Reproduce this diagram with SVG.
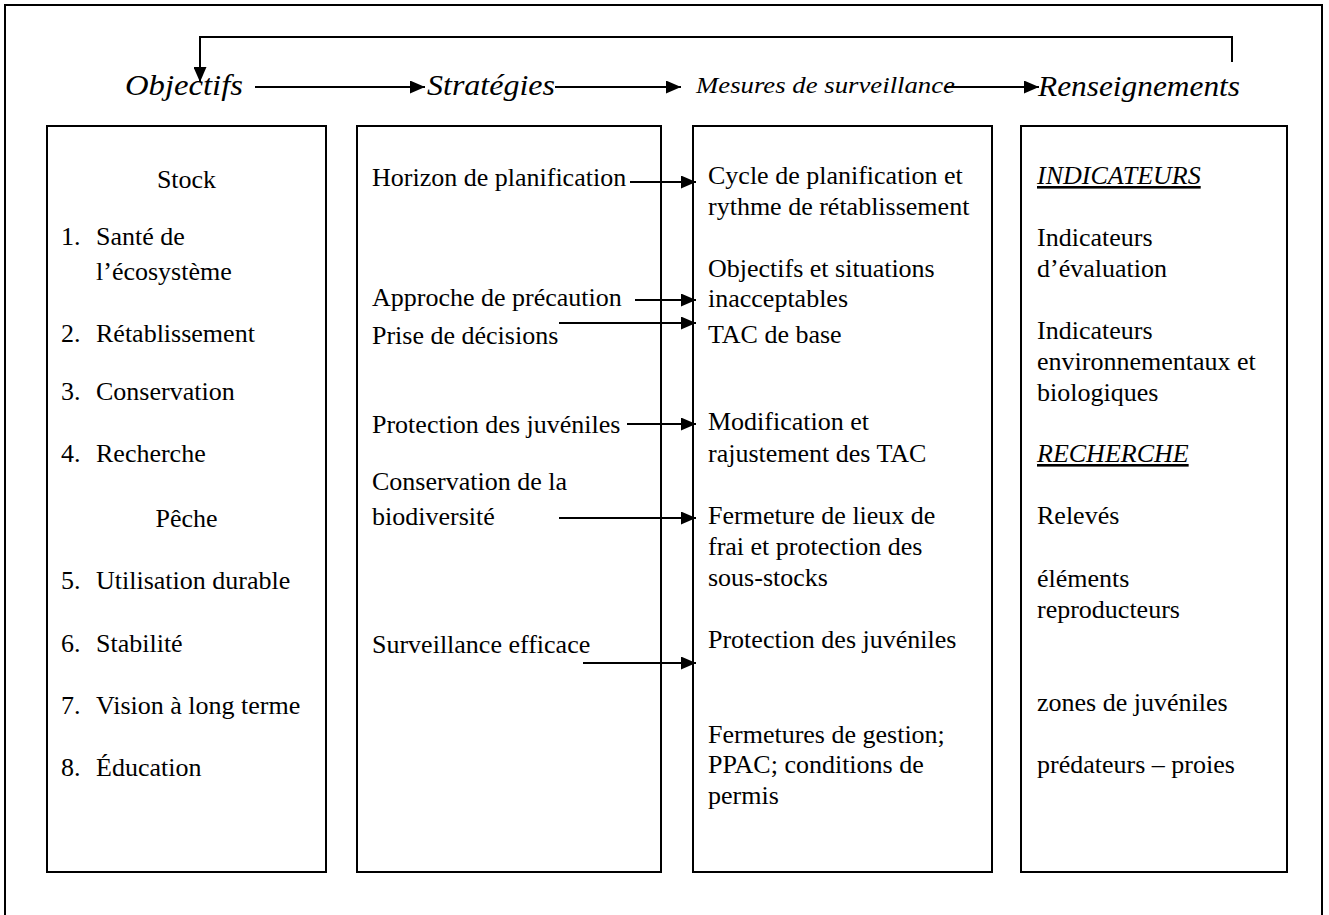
<svg xmlns="http://www.w3.org/2000/svg" width="1329" height="915" viewBox="0 0 1329 915">
<style>
.frame{fill:none;stroke:#000;stroke-width:2}
.box{fill:#fff;stroke:#000;stroke-width:2}
.t{font-family:"Liberation Serif","Times New Roman",serif;font-size:26px;fill:#000}
.h{font-family:"Liberation Serif","Times New Roman",serif;font-size:29px;font-style:italic;fill:#000}
.hs{font-family:"Liberation Serif","Times New Roman",serif;font-size:23px;font-style:italic;fill:#000}
.u{font-style:italic;text-decoration:underline}
.c{text-anchor:middle}
.con{fill:none;stroke:#000;stroke-width:2}
</style>
<defs>
<marker id="ah" markerUnits="userSpaceOnUse" markerWidth="15" markerHeight="13" refX="15" refY="6.5" orient="auto">
<path d="M0,0 L15,6.5 L0,13 z" fill="#000"/>
</marker>
</defs>
<rect class="frame" x="5" y="5" width="1317" height="930"/>

<g id="headers">
<text class="h" x="125" y="95" textLength="118" lengthAdjust="spacingAndGlyphs">Objectifs</text>
<text class="h" x="427" y="95" textLength="128" lengthAdjust="spacingAndGlyphs">Stratégies</text>
<text class="hs" x="696" y="93" textLength="259" lengthAdjust="spacingAndGlyphs">Mesures de surveillance</text>
<text class="h" x="1038" y="96" textLength="202" lengthAdjust="spacingAndGlyphs">Renseignements</text>
</g>

<g id="objectifs">
<rect class="box" x="47" y="126" width="279" height="746"/>
<text class="t c" x="186.5" y="188">Stock</text>
<text class="t" x="61" y="245">1.</text><text class="t" x="96" y="245">Santé de</text>
<text class="t" x="96" y="280">l’écosystème</text>
<text class="t" x="61" y="342">2.</text><text class="t" x="96" y="342">Rétablissement</text>
<text class="t" x="61" y="400">3.</text><text class="t" x="96" y="400">Conservation</text>
<text class="t" x="61" y="462">4.</text><text class="t" x="96" y="462">Recherche</text>
<text class="t c" x="186.5" y="527">Pêche</text>
<text class="t" x="61" y="589">5.</text><text class="t" x="96" y="589">Utilisation durable</text>
<text class="t" x="61" y="652">6.</text><text class="t" x="96" y="652">Stabilité</text>
<text class="t" x="61" y="714">7.</text><text class="t" x="96" y="714">Vision à long terme</text>
<text class="t" x="61" y="776">8.</text><text class="t" x="96" y="776">Éducation</text>
</g>

<g id="strategies">
<rect class="box" x="357" y="126" width="304" height="746"/>
<text class="t" x="372" y="186">Horizon de planification</text>
<text class="t" x="372" y="306">Approche de précaution</text>
<text class="t" x="372" y="344">Prise de décisions</text>
<text class="t" x="372" y="433">Protection des juvéniles</text>
<text class="t" x="372" y="490">Conservation de la</text>
<text class="t" x="372" y="525">biodiversité</text>
<text class="t" x="372" y="653">Surveillance efficace</text>
</g>

<g id="mesures">
<rect class="box" x="693" y="126" width="299" height="746"/>
<text class="t" x="708" y="184">Cycle de planification et</text>
<text class="t" x="708" y="215">rythme de rétablissement</text>
<text class="t" x="708" y="277">Objectifs et situations</text>
<text class="t" x="708" y="307">inacceptables</text>
<text class="t" x="708" y="343">TAC de base</text>
<text class="t" x="708" y="430">Modification et</text>
<text class="t" x="708" y="462">rajustement des TAC</text>
<text class="t" x="708" y="524">Fermeture de lieux de</text>
<text class="t" x="708" y="555">frai et protection des</text>
<text class="t" x="708" y="586">sous-stocks</text>
<text class="t" x="708" y="648">Protection des juvéniles</text>
<text class="t" x="708" y="743">Fermetures de gestion;</text>
<text class="t" x="708" y="773">PPAC; conditions de</text>
<text class="t" x="708" y="804">permis</text>
</g>

<g id="renseignements">
<rect class="box" x="1021" y="126" width="266" height="746"/>
<text class="t u" x="1037" y="184">INDICATEURS</text>
<text class="t" x="1037" y="246">Indicateurs</text>
<text class="t" x="1037" y="277">d’évaluation</text>
<text class="t" x="1037" y="339">Indicateurs</text>
<text class="t" x="1037" y="370">environnementaux et</text>
<text class="t" x="1037" y="401">biologiques</text>
<text class="t u" x="1037" y="462">RECHERCHE</text>
<text class="t" x="1037" y="524">Relevés</text>
<text class="t" x="1037" y="587">éléments</text>
<text class="t" x="1037" y="618">reproducteurs</text>
<text class="t" x="1037" y="711">zones de juvéniles</text>
<text class="t" x="1037" y="773">prédateurs – proies</text>
</g>

<g id="connectors">
<polyline class="con" points="1232,62 1232,37 200,37 200,82" marker-end="url(#ah)"/>
<line class="con" x1="255" y1="87" x2="425" y2="87" marker-end="url(#ah)"/>
<line class="con" x1="555" y1="87" x2="681" y2="87" marker-end="url(#ah)"/>
<line class="con" x1="945" y1="87" x2="1039" y2="87" marker-end="url(#ah)"/>
<line class="con" x1="630" y1="182" x2="696" y2="182" marker-end="url(#ah)"/>
<line class="con" x1="635" y1="300" x2="696" y2="300" marker-end="url(#ah)"/>
<line class="con" x1="559" y1="323" x2="696" y2="323" marker-end="url(#ah)"/>
<line class="con" x1="627" y1="424" x2="696" y2="424" marker-end="url(#ah)"/>
<line class="con" x1="559" y1="518" x2="696" y2="518" marker-end="url(#ah)"/>
<line class="con" x1="583" y1="663" x2="696" y2="663" marker-end="url(#ah)"/>
</g>
</svg>
